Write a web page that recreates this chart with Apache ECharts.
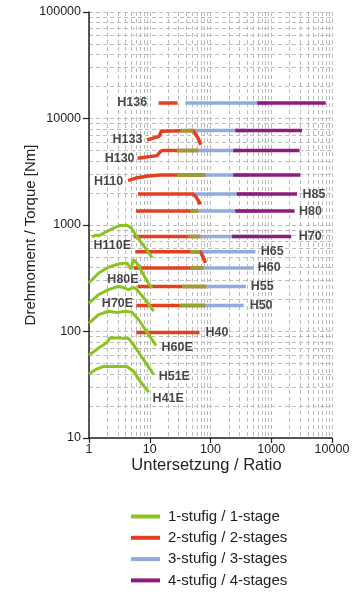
<!DOCTYPE html>
<html><head><meta charset="utf-8">
<script src="https://cdn.jsdelivr.net/npm/echarts@6/dist/echarts.min.js"></script>
<style>html,body{margin:0;padding:0;background:#fff}#c{width:360px;height:600px}</style>
</head><body><div id="c"></div>
<script>
// ---- tick labels ----
const xTickLabels = ['1', '10', '100', '1000', '10000'];
const yTickLabels = ['10', '100', '1000', '10000', '100000'];
const legendNames = ['1-stufig / 1-stage', '2-stufig / 2-stages', '3-stufig / 3-stages', '4-stufig / 4-stages'];

// ---- 1-stage curves (ratio, torque Nm) ----
const H110E = [[1.12,775],[1.3,805],[1.45,790],[1.85,855],[2.54,935],[3.27,990],[4.22,995],[4.97,940],[5.78,815],[6.98,705],[8.45,610],[10.9,497]];
const H80E  = [[1.0,285],[1.44,354],[2.1,401],[3.07,430],[4.2,440],[4.9,385],[5.42,475],[6.4,424],[7.9,341],[9.6,280],[10.9,258]];
const H70E  = [[1.0,185],[1.44,222],[2.1,247],[3.07,266],[3.85,256],[4.49,247],[5.42,260],[6.17,247],[8.45,199],[11.6,155]];
const H60E  = [[1.0,120],[1.44,144],[2.1,155],[2.89,151],[3.96,155],[5.1,152],[6.55,129],[8.45,104],[10.9,84],[12.7,74]];
const H51E  = [[1.0,60],[1.44,70],[1.74,75],[2.0,80],[2.2,87],[3.07,87],[4.49,86],[5.42,75],[6.98,60.5],[9.0,48.8],[11.6,39.3]];
const H41E  = [[1.0,40],[1.27,43.8],[1.74,47],[4.22,47],[5.42,42.3],[6.98,34],[9.58,27]];

// 1-stage ranges drawn over 2-stage lines
const H133_1 = [[31.8,7700],[52,7700]];
const H130_1 = [[28,5000],[63,5000]];
const H110_1 = [[28,2950],[82,2950]];
const H80_1  = [[46.5,1350],[63,1350]];
const H70_1  = [[43,780],[68,780]];
const H65_1  = [[46.5,560],[68,560]];
const H60_1  = [[46.5,395],[76,395]];
const H55_1  = [[34,265],[85,265]];
const H50_1  = [[31,175],[82,175]];

// ---- 2-stage ----
const H136_2 = [[14.0,14000],[28.7,14000]];
const H133_2 = [[9.0,6300],[14.3,6800],[15.5,7600],[16.5,7700],[52,7700],[56,7450],[62,6600],[69,5650]];
const H130_2 = [[6.3,4230],[13.2,4480],[15.0,4900],[16.2,5000],[63,5000]];
const H110_2 = [[4.4,2610],[6.2,2780],[9.6,2890],[15,2940],[82,2950]];
const H85_2  = [[6.4,1950],[51.5,1950],[56,1880],[62,1720],[68,1560]];
const H80_2  = [[5.94,1350],[63,1350]];
const H70_2  = [[5.42,780],[68,780]];
const H65_2  = [[5.78,560],[68,560],[75,505],[82.6,440]];
const H60_2  = [[5.42,395],[76,395]];
const H55_2  = [[6.3,265],[85,265]];
const H50_2  = [[6.0,175],[82,175]];
const H40_2  = [[6.0,98],[66,98]];

// ---- 3-stage ----
const H136_3 = [[38.5,14000],[890,14000]];
const H133_3 = [[52,7700],[374,7700]];
const H130_3 = [[63,5000],[309,5000]];
const H110_3 = [[82,2950],[398,2950]];
const H85_3  = [[49.6,1950],[704,1950]];
const H80_3  = [[63,1350],[660,1350]];
const H70_3  = [[68,780],[630,780]];
const H65_3  = [[46.5,560],[547,560]];
const H60_3  = [[46.5,395],[516,395]];
const H55_3  = [[85,265],[381,265]];
const H50_3  = [[82,175],[351,175]];

// ---- 4-stage ----
const H136_4 = [[590,14000],[7900,14000]];
const H133_4 = [[256,7700],[3210,7700]];
const H130_4 = [[237,5000],[2920,5000]];
const H110_4 = [[237,2950],[3000,2950]];
const H85_4  = [[271,1950],[2655,1950]];
const H80_4  = [[256,1350],[2420,1350]];
const H70_4  = [[226,780],[2140,780]];

const C_GREEN = '#8cc31f', C_OLIVE = '#98a030', C_RED = '#e2401f', C_BLUE = '#90acdc', C_PURPLE = '#8e1b7d';

function seg(name, color, data, width) {
  return { type: 'line', name: name, data: data, showSymbol: false, symbol: 'none',
    lineStyle: { color: color, width: width }, itemStyle: { color: color }, silent: true };
}
const series = [];
[H136_3,H133_3,H130_3,H110_3,H85_3,H80_3,H70_3,H65_3,H60_3,H55_3,H50_3].forEach(d => series.push(seg(legendNames[2], C_BLUE, d, 3.5)));
[H136_4,H133_4,H130_4,H110_4,H85_4,H80_4,H70_4].forEach(d => series.push(seg(legendNames[3], C_PURPLE, d, 3.5)));
[H136_2,H133_2,H130_2,H110_2,H85_2,H80_2,H70_2,H65_2,H60_2,H55_2,H50_2,H40_2].forEach(d => series.push(seg(legendNames[1], C_RED, d, 3.5)));
[H110E,H80E,H70E,H60E,H51E,H41E].forEach(d => series.push(seg(legendNames[0], C_GREEN, d, 3)));
[H133_1,H130_1,H110_1,H80_1,H70_1,H65_1,H60_1,H55_1,H50_1].forEach(d => series.push(seg(legendNames[0], C_OLIVE, d, 3.5)));

const LBL = { show: true, color: '#1a1a1a', fontWeight: 'bold', fontSize: 12.5, fontFamily: 'Liberation Sans, Arial, sans-serif' };
function lab(pt, text, position, distance, offset) {
  const l = Object.assign({}, LBL, { formatter: text, position: position });
  if (distance != null) l.distance = distance;
  if (offset) l.offset = offset;
  return { value: pt, label: l };
}
const last = a => a[a.length - 1];
const labelData = [
  lab(H136_2[0], 'H136', 'left', 11),
  lab(H133_2[0], 'H133', 'left', 4),
  lab(H130_2[0], 'H130', 'left', 2.5),
  lab(H110_2[0], 'H110', 'left', 4.5, [0, 1]),
  lab(last(H85_4), 'H85', 'right', 5),
  lab(last(H80_4), 'H80', 'right', 4),
  lab(last(H70_4), 'H70', 'right', 7),
  lab(last(H65_3), 'H65', 'right', 5),
  lab(last(H60_3), 'H60', 'right', 3.5),
  lab(last(H55_3), 'H55', 'right', 4.5),
  lab(last(H50_3), 'H50', 'right', 5.5),
  lab(last(H40_2), 'H40', 'right', 5.5),
  lab(H110E[0], 'H110E', 'inside', null, [20.3, 8.7]),
  lab(H80E[0], 'H80E', 'inside', null, [34, -3.8]),
  lab(H70E[0], 'H70E', 'inside', null, [28.5, 0.3]),
  lab(last(H60E), 'H60E', 'right', 5, [0, 2]),
  lab(last(H51E), 'H51E', 'right', 4.5, [0, 2]),
  lab(last(H41E), 'H41E', 'right', 3.5, [0, 6])
];
series.push({ type: 'scatter', name: 'labels', symbolSize: 1, itemStyle: { color: 'rgba(0,0,0,0)' },
  silent: true, z: 10, data: labelData });

const gridLine = { show: true, lineStyle: { color: '#bdbdbd', width: 1, type: [4, 3] } };
const axisCommon = {
  type: 'log', logBase: 10,
  axisLine: { show: true, lineStyle: { color: '#222', width: 1.5 } },
  axisTick: { show: true, inside: false, lineStyle: { color: '#222', width: 1.2 } },
  minorTick: { show: false, splitNumber: 9 },
  splitLine: gridLine,
  minorSplitLine: gridLine,
  nameLocation: 'middle',
  nameMoveOverlap: false
};

const chart = echarts.init(document.getElementById('c'), null, { renderer: 'canvas' });
chart.setOption({
  animation: false,
  textStyle: { fontFamily: 'Liberation Sans, Arial, sans-serif' },
  grid: { left: 89, right: 28, top: 12, bottom: 162, containLabel: false },
  xAxis: Object.assign({}, axisCommon, {
    min: 1, max: 10000, name: 'Untersetzung / Ratio', nameGap: 19,
    nameTextStyle: { fontSize: 16.5, color: '#222', padding: [0, 8, 0, 0] },
    axisTick: Object.assign({}, axisCommon.axisTick, { length: 5 }),
    axisLabel: { margin: 5, fontSize: 12.5, color: '#222',
      formatter: v => xTickLabels[Math.round(Math.log10(v))] }
  }),
  yAxis: Object.assign({}, axisCommon, {
    min: 10, max: 100000, name: 'Drehmoment / Torque [Nm]', nameGap: 51,
    nameTextStyle: { fontSize: 15, color: '#222', padding: [0, 20, 0, 0] },
    axisTick: Object.assign({}, axisCommon.axisTick, { length: 6 }),
    axisLabel: { margin: 8, fontSize: 12.5, color: '#222',
      formatter: v => yTickLabels[Math.round(Math.log10(v)) - 1] }
  }),
  legend: {
    orient: 'vertical', left: 131, top: 509, padding: 0, itemGap: 6.3,
    itemWidth: 29, itemHeight: 4, icon: 'rect',
    data: [
      { name: legendNames[0], itemStyle: { color: C_GREEN } },
      { name: legendNames[1], itemStyle: { color: C_RED } },
      { name: legendNames[2], itemStyle: { color: C_BLUE } },
      { name: legendNames[3], itemStyle: { color: C_PURPLE } }
    ],
    textStyle: { fontSize: 15, color: '#222', padding: [0, 0, 0, 3] },
    selectedMode: false
  },
  series: series
});
</script></body></html>
